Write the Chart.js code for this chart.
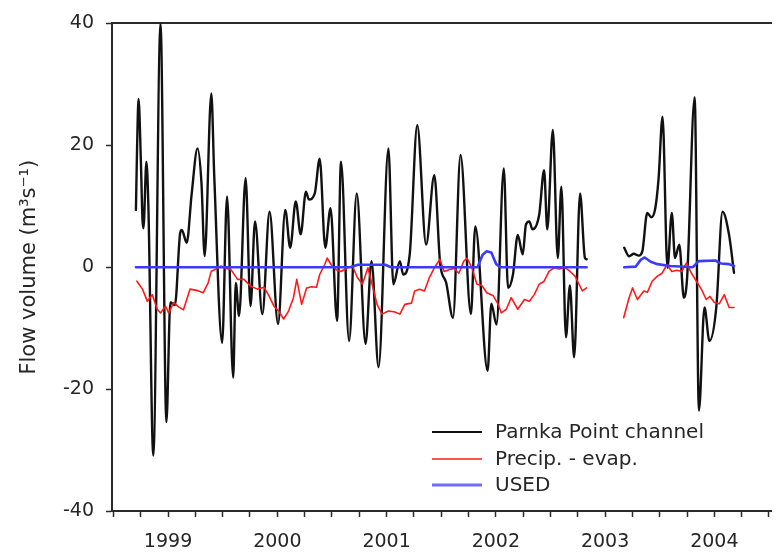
<!DOCTYPE html>
<html>
<head>
<meta charset="utf-8">
<script src="https://cdn.jsdelivr.net/npm/chart.js@4.4.1/dist/chart.umd.min.js"></script>
<style>
  html, body { margin: 0; padding: 0; background: #ffffff; }
  #wrap { width: 783px; height: 553px; position: relative; }
</style>
</head>
<body>
<div id="wrap"><canvas id="flow" width="783" height="553"></canvas></div>
<script>
// Parnka Point channel flow (decimal years, m3/s); null marks the 2002-2003 data gap
const flowYears = [
  1998.706, 1998.717, 1998.730, 1998.751, 1998.766, 1998.775, 1998.802, 1998.820, 1998.865, 1998.931,
  1998.985, 1999.021, 1999.063, 1999.111, 1999.126, 1999.171, 1999.216, 1999.270, 1999.306, 1999.335,
  1999.396, 1999.423, 1999.495, 1999.540, 1999.596, 1999.620, 1999.650, 1999.710, 1999.755, 1999.796,
  1999.863, 1999.929, 2000.007, 2000.073, 2000.118, 2000.169, 2000.214, 2000.262, 2000.289, 2000.343,
  2000.388, 2000.439, 2000.487, 2000.547, 2000.583, 2000.657, 2000.727, 2000.808, 2000.862, 2000.927,
  2001.017, 2001.062, 2001.122, 2001.152, 2001.212, 2001.281, 2001.362, 2001.437, 2001.491, 2001.545,
  2001.608, 2001.677, 2001.772, 2001.812, 2001.925, 2001.959, 2002.006, 2002.073, 2002.112, 2002.157,
  2002.201, 2002.246, 2002.276, 2002.307, 2002.336, 2002.397, 2002.442, 2002.471, 2002.522, 2002.567,
  2002.600, 2002.642, 2002.678, 2002.717, 2002.771, 2002.816, 2002.831,
  2002.950,
  2003.175, 2003.220, 2003.263, 2003.308, 2003.341, 2003.386, 2003.424, 2003.460, 2003.490, 2003.526,
  2003.571, 2003.611, 2003.640, 2003.679, 2003.721, 2003.751, 2003.820, 2003.859, 2003.910, 2003.955,
  2004.018, 2004.075, 2004.135, 2004.180
];
const flowValues = [
  9.4, 20.0, 27.6, 17.6, 7.8, 6.4, 17.3, 10.0, -30.9, 40.0,
  -25.4, -5.8, -6.2, 5.6, 6.1, 4.0, 12.0, 19.5, 13.8, 1.8,
  28.5, 14.9, -12.4, 11.6, -18.1, -2.6, -8.0, 14.6, -6.4, 7.5,
  -7.7, 9.1, -9.3, 9.4, 3.2, 10.8, 5.4, 12.4, 11.1, 12.1,
  17.8, 3.2, 9.7, -8.8, 17.3, -12.1, 12.1, -12.6, 1.0, -16.4,
  19.5, -2.8, 1.0, -1.2, 2.1, 23.3, 3.7, 15.1, 0.5, -2.5,
  -8.3, 18.4, -7.7, 6.7, -17.0, -6.0, -9.4, 16.2, -3.4, -1.2,
  5.3, 2.1, 7.0, 7.5, 6.2, 8.6, 15.9, 6.2, 22.5, 1.5,
  13.2, -11.5, -3.0, -14.8, 12.1, 1.5, 1.3,
  null,
  3.2, 1.8, 2.2, 1.9, 2.6, 8.9, 8.2, 9.7, 14.6, 24.7,
  -0.1, 8.9, 1.5, 3.7, -5.0, -1.7, 27.9, -23.5, -6.6, -12.1,
  -6.6, 9.1, 5.3, -0.9
];

// Precipitation minus evaporation
const precipYears = [
  1998.715, 1998.766, 1998.811, 1998.856, 1998.901, 1998.931, 1998.976, 1999.006, 1999.051, 1999.096,
  1999.141, 1999.201, 1999.261, 1999.321, 1999.366, 1999.396, 1999.441, 1999.486, 1999.531, 1999.576,
  1999.636, 1999.695, 1999.755, 1999.816, 1999.879, 1999.924, 1999.969, 2000.013, 2000.058, 2000.103,
  2000.148, 2000.178, 2000.223, 2000.268, 2000.313, 2000.358, 2000.388, 2000.433, 2000.457, 2000.493,
  2000.538, 2000.583, 2000.643, 2000.688, 2000.733, 2000.779, 2000.829, 2000.868, 2000.913, 2000.958,
  2001.017, 2001.068, 2001.122, 2001.167, 2001.228, 2001.257, 2001.302, 2001.347, 2001.392, 2001.437,
  2001.488, 2001.527, 2001.572, 2001.617, 2001.662, 2001.707, 2001.737, 2001.781, 2001.827, 2001.872,
  2001.917, 2001.977, 2002.022, 2002.051, 2002.096, 2002.141, 2002.201, 2002.262, 2002.307, 2002.352,
  2002.397, 2002.442, 2002.487, 2002.532, 2002.581, 2002.636, 2002.681, 2002.726, 2002.762, 2002.792,
  2002.831,
  2002.950,
  2003.170, 2003.220, 2003.251, 2003.296, 2003.355, 2003.388, 2003.431, 2003.476, 2003.521, 2003.566,
  2003.611, 2003.656, 2003.701, 2003.746, 2003.791, 2003.836, 2003.881, 2003.926, 2003.960, 2004.000,
  2004.045, 2004.091, 2004.136, 2004.180
];
const precipValues = [
  -2.3, -3.6, -5.6, -4.5, -6.9, -7.5, -6.4, -7.5, -5.8, -6.5,
  -7.0, -3.6, -3.8, -4.2, -2.6, -0.65, -0.3, 0.2, -0.2, -0.4,
  -2.0, -2.0, -3.1, -3.6, -3.3, -4.7, -6.4, -7.2, -8.5, -7.2,
  -5.0, -2.0, -6.1, -3.4, -3.2, -3.3, -1.2, 0.4, 1.5, 0.4,
  -0.4, -0.7, -0.1, 0.2, -1.7, -2.8, -0.1, -2.8, -6.1, -7.7,
  -7.2, -7.3, -7.7, -6.1, -5.9, -3.9, -3.6, -3.9, -1.7, -0.1,
  1.3, -0.7, -0.4, -0.2, -1.0, 1.0, 1.5, -0.1, -2.8, -3.0,
  -4.2, -4.7, -6.1, -7.5, -6.9, -5.0, -6.9, -5.3, -5.6, -4.5,
  -2.8, -2.3, -0.7, -0.1, -0.3, -0.1, -0.7, -1.5, -2.8, -3.9,
  -3.4,
  null,
  -8.3, -5.0, -3.4, -5.3, -3.9, -4.1, -2.3, -1.5, -1.0, 0.4,
  -0.7, -0.5, -0.7, 0.7, -1.0, -2.3, -3.6, -5.3, -4.8, -5.8,
  -6.0, -4.5, -6.6, -6.6
];

// USED model estimate
const usedYears = [
  1998.706, 2000.673, 2000.736, 2000.987, 2001.041, 2001.833, 2001.878, 2001.914, 2001.959, 2002.004,
  2002.040, 2002.831,
  2002.950,
  2003.175, 2003.281, 2003.326, 2003.362, 2003.418, 2003.480, 2003.597, 2003.804, 2003.856, 2004.009,
  2004.063, 2004.135, 2004.180
];
const usedValues = [
  0, 0, 0.4, 0.4, 0, 0, 2.0, 2.6, 2.4, 0.5,
  0, 0,
  null,
  0, 0.1, 1.2, 1.6, 0.9, 0.5, 0.2, 0, 1.0, 1.1,
  0.6, 0.5, 0.2
];

const seriesNames = ['Parnka Point channel', 'Precip. - evap.', 'USED'];
const seriesColors = ['#111111', '#ff1a1a', '#3b3bff'];
const yTickValues = [-40, -20, 0, 20, 40];
const yearLabels = [1999, 2000, 2001, 2002, 2003, 2004];

const xMin = 1998.487;
const xMax = 2004.522;

function pairUp(xs, ys) {
  return xs.map((x, i) => ({ x: x, y: ys[i] }));
}

const FONT = "'DejaVu Sans', 'Liberation Sans', sans-serif";
const TEXT = '#262626';
const AXIS = '#2a2a2a';

// Legend drawn inside the plot area, lower right
const insideLegend = {
  id: 'insideLegend',
  afterDraw(chart) {
    const ctx = chart.ctx;
    const widths = [2, 1.6, 3];
    const rows = [432, 459, 485];
    ctx.save();
    ctx.font = '20px ' + FONT;
    ctx.textBaseline = 'middle';
    ctx.textAlign = 'left';
    seriesNames.forEach((name, i) => {
      ctx.strokeStyle = i === 2 ? '#6f6fff' : seriesColors[i];
      ctx.lineWidth = widths[i];
      ctx.beginPath();
      ctx.moveTo(432, rows[i]);
      ctx.lineTo(482, rows[i]);
      ctx.stroke();
      ctx.fillStyle = TEXT;
      ctx.fillText(name, 495, rows[i] + 1);
    });
    ctx.restore();
  }
};

new Chart(document.getElementById('flow'), {
  type: 'line',
  data: {
    datasets: [
      {
        label: seriesNames[0],
        data: pairUp(flowYears, flowValues),
        borderColor: seriesColors[0],
        borderWidth: 2.4,
        cubicInterpolationMode: 'monotone',
        order: 3
      },
      {
        label: seriesNames[1],
        data: pairUp(precipYears, precipValues),
        borderColor: seriesColors[1],
        borderWidth: 1.6,
        order: 2
      },
      {
        label: seriesNames[2],
        data: pairUp(usedYears, usedValues),
        borderColor: seriesColors[2],
        borderWidth: 2.6,
        order: 1
      }
    ]
  },
  options: {
    responsive: false,
    animation: false,
    devicePixelRatio: 1,
    spanGaps: false,
    elements: {
      point: { radius: 0, hoverRadius: 0 },
      line: { tension: 0, borderJoinStyle: 'round', borderCapStyle: 'round' }
    },
    layout: { padding: { top: 21, right: 0, bottom: 0, left: 0 } },
    plugins: {
      legend: { display: false },
      tooltip: { enabled: false }
    },
    scales: {
      x: {
        type: 'linear',
        position: 'bottom',
        min: xMin,
        max: xMax,
        afterBuildTicks(scale) {
          const ticks = [];
          for (let q = Math.ceil(xMin * 4); q <= Math.floor(xMax * 4); q++) {
            ticks.push({ value: q / 4 });
          }
          scale.ticks = ticks;
        },
        afterFit(scale) { scale.height = 42; },
        ticks: {
          autoSkip: false,
          maxRotation: 0,
          padding: 14,
          color: TEXT,
          font: { family: FONT, size: 19 },
          callback(v) {
            return yearLabels.includes(v) ? String(v) : '';
          }
        },
        grid: {
          drawOnChartArea: false,
          drawTicks: true,
          tickLength: 6,
          tickWidth: 1.5,
          tickColor: AXIS
        },
        border: { display: true, color: AXIS, width: 2 }
      },
      xTop: {
        type: 'linear',
        position: 'top',
        min: xMin,
        max: xMax,
        afterFit(scale) { scale.height = 0; },
        ticks: { display: false },
        grid: { display: false },
        border: { display: true, color: AXIS, width: 2 }
      },
      y: {
        type: 'linear',
        position: 'left',
        min: -40,
        max: 40,
        afterBuildTicks(scale) {
          scale.ticks = yTickValues.map(v => ({ value: v }));
        },
        afterFit(scale) { scale.width = 112; },
        ticks: {
          padding: 12,
          color: TEXT,
          font: { family: FONT, size: 19 }
        },
        grid: {
          drawOnChartArea: false,
          drawTicks: true,
          tickLength: 6,
          tickWidth: 1.5,
          tickColor: AXIS
        },
        border: { display: true, color: AXIS, width: 2 },
        title: {
          display: true,
          text: 'Flow volume (m\u00B3s\u207B\u00B9)',
          color: TEXT,
          font: { family: FONT, size: 21 },
          padding: { top: 17, bottom: 0 }
        }
      }
    }
  },
  plugins: [insideLegend]
});
</script>
</body>
</html>
